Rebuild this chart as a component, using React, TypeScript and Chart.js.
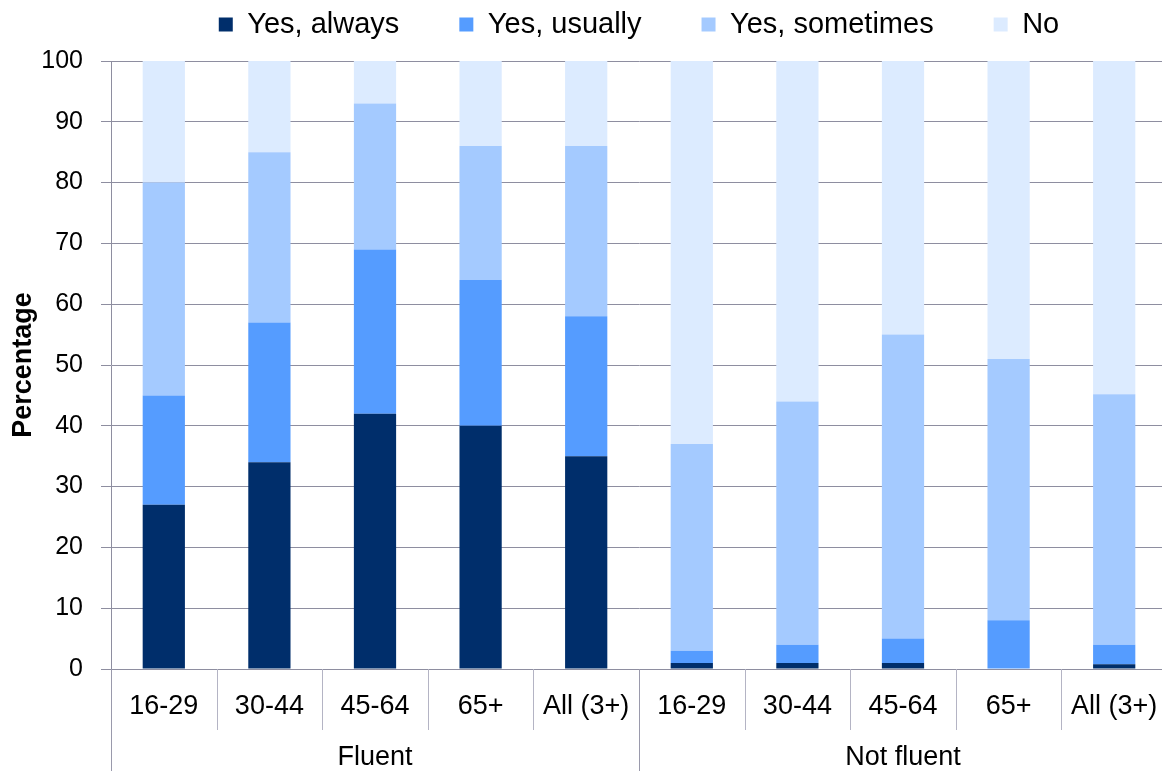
import React, { useEffect, useRef } from 'react';
import { Chart, registerables } from 'chart.js';

Chart.register(...registerables);

// ---- data ----
const categories = ['16-29', '30-44', '45-64', '65+', 'All (3+)', '16-29', '30-44', '45-64', '65+', 'All (3+)'];
const groupLabels = ['Fluent', 'Not fluent'];
const groupSizes = [5, 5];
const seriesNames = ['Yes, always', 'Yes, usually', 'Yes, sometimes', 'No'];
const yesAlways = [27, 34, 42, 40, 35, 1, 1, 1, 0, 0.8];
const yesUsually = [18, 23, 27, 24, 23, 2, 3, 4, 8, 3.2];
const yesSometimes = [35, 28, 24, 22, 28, 34, 40, 50, 43, 41.2];
const noValues = [20, 15, 7, 14, 14, 63, 56, 45, 49, 54.8];
const yMin = 0;
const yMax = 100;
const yStep = 10;
const yTitle = 'Percentage';

const seriesColors = ['#002E6B', '#559CFF', '#A4CAFF', '#DCEBFF'];
const FONT = "'Liberation Sans', Arial, sans-serif";
const GRID = '#8e8ea0';

const groupPlugin = {
  id: 'groupLabels',
  afterDraw(chart: any) {
    const ctx = chart.ctx;
    const xs = chart.scales.x;
    const area = chart.chartArea;
    const bottom = chart.height;
    const n = categories.length;
    const px = (i: number) => xs.getPixelForValue(i);
    const boundary = (i: number) => {
      if (i <= 0) return xs.left;
      if (i >= n) return xs.right;
      return (px(i - 1) + px(i)) / 2;
    };
    const groupEdges = new Set<number>();
    let acc = 0;
    groupEdges.add(0);
    groupSizes.forEach((s) => { acc += s; groupEdges.add(acc); });
    ctx.save();
    ctx.lineWidth = 1;
    for (let i = 0; i <= n; i++) {
      const bx = Math.round(boundary(i)) + 0.5;
      const isGroup = groupEdges.has(i);
      ctx.strokeStyle = isGroup ? '#9a9aac' : '#b4b4c4';
      ctx.beginPath();
      ctx.moveTo(bx, area.bottom);
      ctx.lineTo(bx, isGroup ? bottom : area.bottom + 61);
      ctx.stroke();
    }
    ctx.fillStyle = '#000';
    ctx.font = `27px ${FONT}`;
    ctx.textAlign = 'center';
    ctx.textBaseline = 'middle';
    let start = 0;
    groupLabels.forEach((g, gi) => {
      const end = start + groupSizes[gi];
      const cx = (boundary(start) + boundary(end)) / 2;
      ctx.fillText(g, cx, area.bottom + 89);
      start = end;
    });
    ctx.restore();
  },
};

export default function App() {
  const ref = useRef<HTMLCanvasElement | null>(null);
  useEffect(() => {
    if (!ref.current) return;
    const values = [yesAlways, yesUsually, yesSometimes, noValues];
    const chart = new Chart(ref.current, {
      type: 'bar',
      data: {
        labels: categories,
        datasets: seriesNames.map((name, i) => ({
          label: name,
          data: values[i],
          backgroundColor: seriesColors[i],
          borderWidth: 0,
          barPercentage: 0.4,
          categoryPercentage: 1,
        })),
      },
      plugins: [groupPlugin],
      options: {
        responsive: false,
        animation: false,
        layout: { padding: { top: -50, left: 0, right: 0, bottom: 0 } },
        plugins: {
          legend: {
            position: 'top',
            fullSize: false,
            weight: 3000,
            labels: {
              font: { family: FONT, size: 29 },
              color: '#000',
              boxWidth: 14,
              boxHeight: 14,
              padding: 60,
            },
          } as any,
          title: {
            display: true,
            text: '',
            weight: 2000,
            font: { size: 10 },
            padding: { top: 0, bottom: 0 },
          } as any,
          tooltip: { enabled: false },
        },
        scales: {
          x: {
            stacked: true,
            grid: { display: false, drawTicks: false },
            border: { display: true, color: GRID },
            ticks: {
              font: { family: FONT, size: 27 },
              color: '#000',
              padding: 21,
              maxRotation: 0,
              autoSkip: false,
            },
            afterFit: (s: any) => {
              s.height = 102;
              s.paddingLeft = 0;
              s.paddingRight = 0;
            },
          },
          y: {
            stacked: true,
            min: yMin,
            max: yMax,
            grid: { color: GRID, drawTicks: true, tickLength: 10 },
            border: { display: true, color: GRID },
            ticks: {
              stepSize: yStep,
              font: { family: FONT, size: 25 },
              color: '#000',
              padding: 18,
            },
            title: {
              display: true,
              text: yTitle,
              color: '#000',
              font: { family: FONT, size: 27, weight: 'bold' },
              padding: { top: 7, bottom: 0 },
            },
            afterFit: (s: any) => { s.width = 111; },
          },
        },
      },
    });
    return () => chart.destroy();
  }, []);
  return (
    <div style={{ position: 'fixed', left: 0, top: 0, width: 1162, height: 771, overflow: 'hidden', background: '#fff' }}>
      <canvas ref={ref} width={1167} height={771} style={{ display: 'block' }} />
    </div>
  );
}
